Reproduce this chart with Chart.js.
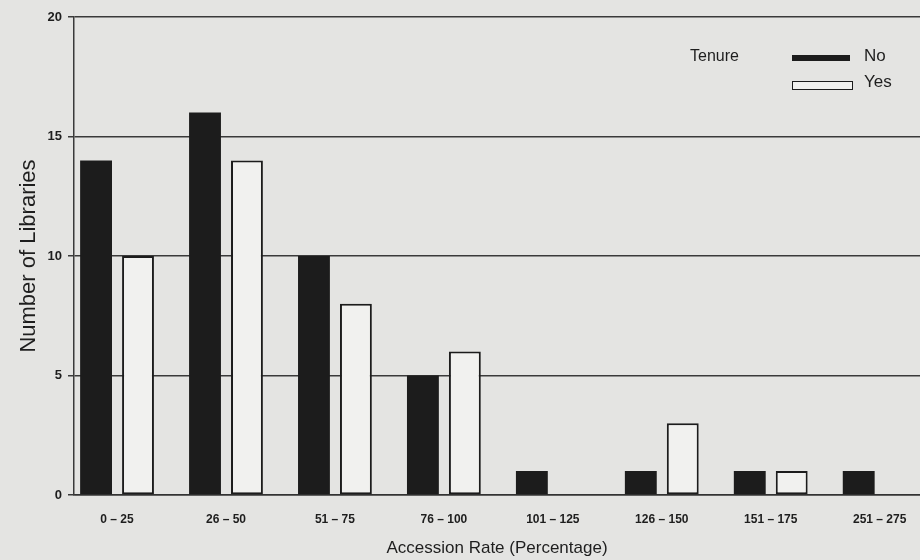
<!DOCTYPE html>
<html>
<head>
<meta charset="utf-8">
<script src="https://cdn.jsdelivr.net/npm/chart.js@4"></script>
<style>
  html, body { margin: 0; padding: 0; background: #e4e4e2; }
  #wrap { position: relative; width: 920px; height: 560px; overflow: hidden; }
  canvas { display: block; }
  .lg { position: absolute; font-family: "Liberation Sans", Arial, sans-serif; color: #1e1e1e; }
  .sw { position: absolute; box-sizing: border-box; }
</style>
</head>
<body>
<div id="wrap">
  <canvas id="chart" width="920" height="560"></canvas>
  <div class="lg" style="left:690px; top:47px; font-size:16px;">Tenure</div>
  <div class="sw" style="left:792px; top:55px; width:58px; height:6px; background:#1c1c1c;"></div>
  <div class="lg" style="left:864px; top:46px; font-size:17px;">No</div>
  <div class="sw" style="left:792px; top:81px; width:61px; height:9px; background:#f1f1ef; border:1.5px solid #1c1c1c;"></div>
  <div class="lg" style="left:864px; top:72px; font-size:17px;">Yes</div>
</div>
<script>
// Accession rate classes and library counts
const categorias = ['0 – 25', '26 – 50', '51 – 75', '76 – 100', '101 – 125', '126 – 150', '151 – 175', '251 – 275'];
const semTenure = [14, 16, 10, 5, 1, 1, 1, 1];   // No
const comTenure = [10, 14, 8, 6, 0, 3, 1, 0];    // Yes
const yTicks = [0, 5, 10, 15, 20];

const fonte = '"Liberation Sans", Arial, sans-serif';

const ctx = document.getElementById('chart');
new Chart(ctx, {
  type: 'bar',
  data: {
    datasets: [{
      label: 'No',
      data: semTenure.map((v, i) => ({ x: i, y: v })),
      backgroundColor: '#1c1c1c',
      borderColor: '#1c1c1c',
      borderWidth: 0
    }, {
      label: 'Yes',
      data: comTenure.map((v, i) => ({ x: i, y: v })),
      backgroundColor: '#f1f1ef',
      borderColor: '#1c1c1c',
      borderWidth: 2,
      borderSkipped: false
    }]
  },
  options: {
    responsive: false,
    animation: false,
    categoryPercentage: 0.77,
    barPercentage: 0.76,
    layout: { padding: { top: 17, right: 0, left: 0, bottom: 0 } },
    plugins: { legend: { display: false }, tooltip: { enabled: false } },
    scales: {
      x: {
        type: 'linear',
        offset: false,
        min: -0.395,
        max: 7.37,
        afterFit: s => { s.height = 65; },
        grid: { display: false },
        border: { display: true, color: '#333', width: 1.5 },
        ticks: {
          stepSize: 1,
          includeBounds: false,
          padding: 9,
          color: '#1e1e1e',
          font: { family: fonte, size: 12, weight: 'bold' },
          callback: v => Number.isInteger(v) ? categorias[v] : ''
        },
        title: {
          display: true,
          text: 'Accession Rate (Percentage)',
          color: '#1e1e1e',
          font: { family: fonte, size: 17 },
          padding: { top: 0, bottom: 1 }
        }
      },
      y: {
        min: 0,
        max: 20,
        afterFit: s => { s.width = 74; },
        afterBuildTicks: s => { s.ticks = yTicks.map(v => ({ value: v })); },
        grid: { color: '#3a3a3a', lineWidth: 1.5, tickLength: 6 },
        border: { display: true, color: '#3a3a3a', width: 1.5 },
        ticks: { padding: 6, color: '#1e1e1e', font: { family: fonte, size: 13, weight: 'bold' } },
        title: {
          display: true,
          text: 'Number of Libraries',
          color: '#1e1e1e',
          font: { family: fonte, size: 22 },
          padding: { top: 16, bottom: 0 }
        }
      }
    }
  }
});
</script>
</body>
</html>
